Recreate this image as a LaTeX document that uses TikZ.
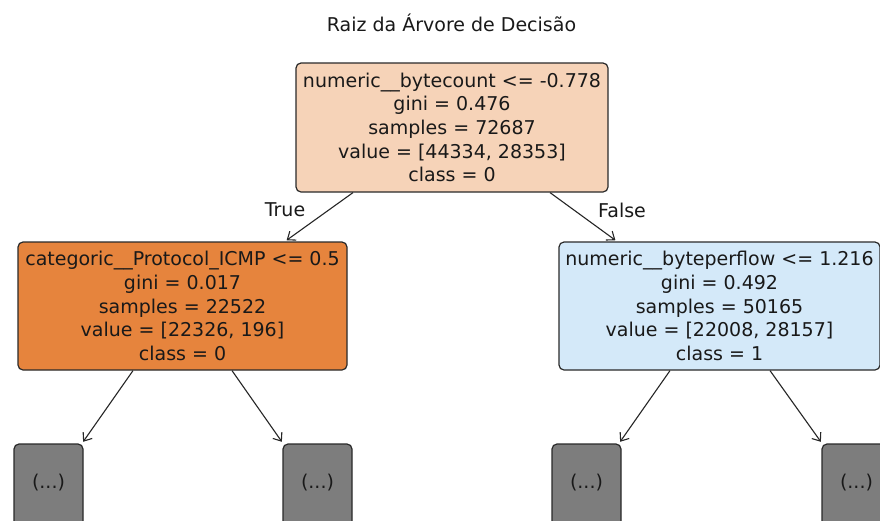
\documentclass[tikz,border=0pt]{standalone}
\usepackage{fontspec}
\setmainfont{DejaVu Sans}
\usetikzlibrary{arrows.meta}
\definecolor{rootc}{HTML}{F6D3B8}
\definecolor{leftc}{HTML}{E6843D}
\definecolor{rightc}{HTML}{D4E9F9}
\definecolor{greyc}{HTML}{7D7D7D}
\definecolor{edgec}{HTML}{2A2A2A}
\begin{document}
\begin{tikzpicture}[x=1pt,y=-1pt,
  treebox/.style={draw=edgec, line width=1.2pt, rounded corners=5pt, align=center,
    inner sep=0pt, font=\fontsize{19}{23.6}\selectfont, text=black!90},
  more/.style={treebox, fill=greyc, minimum width=69pt, minimum height=96pt, text depth=22pt},
  lbl/.style={font=\fontsize{19}{23}\selectfont, text=black!90, inner sep=0pt},
  edge/.style={draw=black!85, line width=1.1pt, -{Straight Barb[length=7pt,width=11pt,line width=1.1pt]}, shorten >=2pt}
]
\useasboundingbox (0,0) rectangle (880,520);
\fill[white] (0,0) rectangle (880,520);

\node[lbl] (title) at (451.5,23) {Raiz da Árvore de Decisão};

\node[treebox, fill=rootc, minimum width=312pt, minimum height=129pt] (root) at (452,127.5)
  {numeric\_\_bytecount <= -0.778\\gini = 0.476\\samples = 72687\\value = [44334, 28353]\\class = 0};
\node[treebox, fill=leftc, minimum width=329pt, minimum height=128pt] (left) at (182.5,306)
  {categoric\_\_Protocol\_ICMP <= 0.5\\gini = 0.017\\samples = 22522\\value = [22326, 196]\\class = 0};
\node[treebox, fill=rightc, minimum width=321pt, minimum height=128pt] (right) at (719.5,306)
  {numeric\_\_byteperflow <= 1.216\\gini = 0.492\\samples = 50165\\value = [22008, 28157]\\class = 1};

\node[more] (g1) at (48.5,492) {(...)};
\node[more] (g2) at (317.5,492) {(...)};
\node[more] (g3) at (586.5,492) {(...)};
\node[more] (g4) at (856.5,492) {(...)};

\node[lbl] (true) at (285,210) {True};
\node[lbl] (false) at (622,210) {False};

\draw[edge] ([xshift=-99pt]root.south) -- ([xshift=102.5pt]left.north);
\draw[edge] ([xshift=98pt]root.south) -- ([xshift=-102.5pt]right.north);
\draw[edge] ([xshift=-49.5pt]left.south) -- ([xshift=33.5pt]g1.north);
\draw[edge] ([xshift=49.5pt]left.south) -- ([xshift=-34.5pt]g2.north);
\draw[edge] ([xshift=-49.5pt]right.south) -- ([xshift=32.5pt]g3.north);
\draw[edge] ([xshift=50.5pt]right.south) -- ([xshift=-34.5pt]g4.north);
\end{tikzpicture}
\end{document}
